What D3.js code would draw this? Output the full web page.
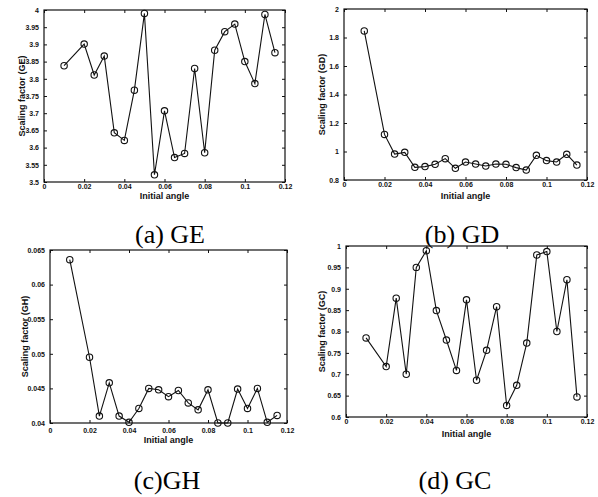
<!DOCTYPE html>
<html>
<head>
<meta charset="utf-8">
<script src="https://cdn.jsdelivr.net/npm/d3@7"></script>
<style>
  body { margin: 0; background: #fff; }
  svg { display: block; }
  .tick-label { font-family: "Liberation Sans", Arial, sans-serif; font-weight: bold; font-size: 7px; fill: #111; }
  .axis-title { font-family: "Liberation Sans", Arial, sans-serif; font-weight: bold; font-size: 9px; fill: #111; }
  .caption { font-family: "Liberation Serif", "Times New Roman", serif; font-size: 26px; fill: #000; }
</style>
</head>
<body>
<script>
//Initial angles (shared x values)
const angles = [0.01, 0.02, 0.025, 0.03, 0.035, 0.04, 0.045, 0.05, 0.055, 0.06, 0.065,
    0.07, 0.075, 0.08, 0.085, 0.09, 0.095, 0.1, 0.105, 0.11, 0.115];

//Scaling factors
const geValues = [3.838, 3.901, 3.811, 3.866, 3.643, 3.621, 3.767, 3.990, 3.521, 3.707, 3.571,
    3.583, 3.830, 3.585, 3.883, 3.937, 3.959, 3.850, 3.786, 3.987, 3.876];
const gdValues = [1.846, 1.120, 0.982, 0.994, 0.889, 0.894, 0.910, 0.950, 0.882, 0.926, 0.912,
    0.898, 0.912, 0.910, 0.887, 0.870, 0.973, 0.936, 0.926, 0.980, 0.905];
const ghValues = [0.0636, 0.0495, 0.0410, 0.0458, 0.0410, 0.0401, 0.0421, 0.0450, 0.0448, 0.0438, 0.0447,
    0.0429, 0.0419, 0.0448, 0.0400, 0.0400, 0.0449, 0.0421, 0.0450, 0.0401, 0.0411];
const gcValues = [0.785, 0.718, 0.878, 0.700, 0.950, 0.989, 0.849, 0.780, 0.709, 0.874, 0.686,
    0.756, 0.858, 0.627, 0.674, 0.773, 0.979, 0.987, 0.800, 0.921, 0.647];

//Tick labels
const xTicks = [0, 0.02, 0.04, 0.06, 0.08, 0.1, 0.12];
const geTicks = [3.5, 3.55, 3.6, 3.65, 3.7, 3.75, 3.8, 3.85, 3.9, 3.95, 4];
const gdTicks = [0.8, 1, 1.2, 1.4, 1.6, 1.8, 2];
const ghTicks = [0.04, 0.045, 0.05, 0.055, 0.06, 0.065];
const gcTicks = [0.6, 0.65, 0.7, 0.75, 0.8, 0.85, 0.9, 0.95, 1];

//Panel setup
const panels = [
    { values: geValues, ticks: geTicks, name: "GE", caption: "(a) GE",
      box: [44, 285, 10, 182], pad: 2.5, ylab: 22, xlab: 199, cap: [170, 243] },
    { values: gdValues, ticks: gdTicks, name: "GD", caption: "(b) GD",
      box: [344, 587, 9, 180], pad: 2.5, ylab: 322, xlab: 199, cap: [462, 243] },
    { values: ghValues, ticks: ghTicks, name: "GH", caption: "(c)GH",
      box: [50, 287, 250, 423], pad: 5, ylab: 25, xlab: 443, cap: [167, 489] },
    { values: gcValues, ticks: gcTicks, name: "GC", caption: "(d) GC",
      box: [346, 587, 246, 417], pad: 2.5, ylab: 322, xlab: 437, cap: [455, 489] }
];

var w = 598;
var h = 497;

var svg = d3.select("body")
    .append("svg")
    .attr("width", w)
    .attr("height", h);

panels.forEach(p => {
    const [x0, x1, y0, y1] = p.box;
    const x = d3.scaleLinear().domain([0, 0.12]).range([x0, x1]);
    const y = d3.scaleLinear().domain(d3.extent(p.ticks)).range([y1, y0]);
    const fmt = d => String(+d.toFixed(4));

    const g = svg.append("g");

    //Axes with inward ticks
    g.append("g")
        .attr("transform", `translate(0,${y1})`)
        .call(d3.axisBottom(x).tickValues(xTicks).tickSize(-3).tickPadding(p.pad).tickFormat(fmt))
        .call(a => a.select(".domain").remove())
        .selectAll("text").attr("class", "tick-label");

    g.append("g")
        .attr("transform", `translate(${x0},0)`)
        .call(d3.axisLeft(y).tickValues(p.ticks).tickSize(-3).tickPadding(5).tickFormat(fmt))
        .call(a => a.select(".domain").remove())
        .selectAll("text").attr("class", "tick-label");

    //Mirrored ticks on top and right
    g.append("g")
        .attr("transform", `translate(0,${y0})`)
        .call(d3.axisTop(x).tickValues(xTicks).tickSize(-3).tickFormat(""))
        .call(a => a.select(".domain").remove());

    g.append("g")
        .attr("transform", `translate(${x1},0)`)
        .call(d3.axisRight(y).tickValues(p.ticks).tickSize(-3).tickFormat(""))
        .call(a => a.select(".domain").remove());

    g.selectAll(".tick line").attr("stroke", "#111");

    //Frame
    g.append("rect")
        .attr("x", x0)
        .attr("y", y0)
        .attr("width", x1 - x0)
        .attr("height", y1 - y0)
        .attr("fill", "none")
        .attr("stroke", "#111")
        .attr("stroke-width", 1.2);

    //Line and circle markers
    const pts = angles.map((a, i) => [a, p.values[i]]);
    g.append("path")
        .datum(pts)
        .attr("fill", "none")
        .attr("stroke", "#111")
        .attr("stroke-width", 1.1)
        .attr("d", d3.line().x(d => x(d[0])).y(d => y(d[1])));

    g.selectAll("circle")
        .data(pts)
        .join("circle")
        .attr("cx", d => x(d[0]))
        .attr("cy", d => y(d[1]))
        .attr("r", 3.2)
        .attr("fill", "none")
        .attr("stroke", "#111")
        .attr("stroke-width", 1.1);

    //Axis titles
    g.append("text")
        .attr("class", "axis-title")
        .attr("x", (x0 + x1) / 2)
        .attr("y", p.xlab)
        .attr("text-anchor", "middle")
        .text("Initial angle");

    g.append("text")
        .attr("class", "axis-title")
        .attr("transform", `translate(${p.ylab},${(y0 + y1) / 2}) rotate(-90)`)
        .attr("text-anchor", "middle")
        .attr("dy", "0.35em")
        .text(`Scaling factor (${p.name})`);

    //Caption
    svg.append("text")
        .attr("class", "caption")
        .attr("x", p.cap[0])
        .attr("y", p.cap[1])
        .attr("text-anchor", "middle")
        .text(p.caption);
});
</script>
</body>
</html>
